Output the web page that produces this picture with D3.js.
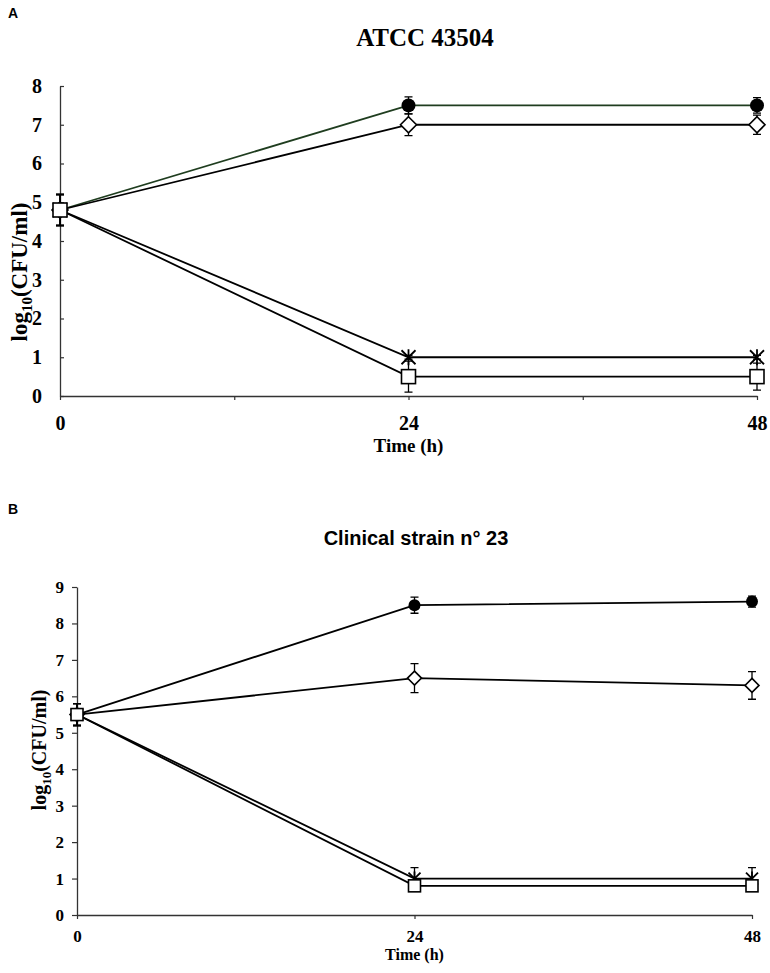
<!DOCTYPE html>
<html><head><meta charset="utf-8">
<script src="https://cdn.jsdelivr.net/npm/d3@7"></script>
<style>body{margin:0;background:#fff}svg{display:block}</style>
</head><body>
<svg id="c" width="770" height="973"></svg>
<script>
// ---- data ----
const times = [0, 24, 48];
const xTicksA = [0, 12, 24, 36, 48];
const xLabelsA = [0, 24, 48];
const yTicksA = [0, 1, 2, 3, 4, 5, 6, 7, 8];
const xTicksB = [0, 24, 48];
const yTicksB = [0, 1, 2, 3, 4, 5, 6, 7, 8, 9];

const A_circle = [4.8, 7.5, 7.5];      const A_circle_err = [0.4, 0.22, 0.2];
const A_diamond = [4.8, 7.0, 7.0];     const A_diamond_err = [0.4, 0.28, 0.25];
const A_star = [4.8, 1.0, 1.0];        const A_star_err = [0.4, 0.05, 0.05];
const A_square = [4.8, 0.5, 0.5];      const A_square_err = [0.4, 0.4, 0.35];

const B_circle = [5.5, 8.5, 8.6];      const B_circle_err = [0.3, 0.22, 0.15];
const B_diamond = [5.5, 6.5, 6.3];     const B_diamond_err = [0.3, 0.4, 0.38];
const B_star = [5.5, 1.0, 1.0];        const B_star_err = [0.3, 0.3, 0.3];
const B_square = [5.5, 0.8, 0.8];      const B_square_err = [0.3, 0.05, 0.05];

const svg = d3.select("#c");
const serif = "'Liberation Serif','Times New Roman',serif";
const sans = "'Liberation Sans',Arial,sans-serif";

function marker(g, type, x, y, s) {
  if (type === "circle") {
    g.append("circle").attr("cx", x).attr("cy", y).attr("r", s / 2).attr("fill", "#000");
  } else if (type === "diamond") {
    const h = s / 2 + 1;
    g.append("path").attr("d", `M${x},${y-h}L${x+h},${y}L${x},${y+h}L${x-h},${y}Z`)
      .attr("fill", "#fff").attr("stroke", "#000").attr("stroke-width", 1.6);
  } else if (type === "square") {
    const h = s / 2;
    g.append("rect").attr("x", x - h).attr("y", y - h).attr("width", s).attr("height", s)
      .attr("fill", "#fff").attr("stroke", "#000").attr("stroke-width", 1.6);
  } else if (type === "star") {
    const h = s / 2;
    g.append("path").attr("d", `M${x-h},${y-h}L${x+h},${y+h}M${x+h},${y-h}L${x-h},${y+h}M${x},${y-h-1}L${x},${y+h+1}`)
      .attr("fill", "none").attr("stroke", "#000").attr("stroke-width", 1.8);
  }
}

function panel(cfg) {
  const x = d3.scaleLinear().domain([0, 48]).range([cfg.x0, cfg.x1]);
  const y = d3.scaleLinear().domain([0, cfg.ymax]).range([cfg.y0, cfg.y1]);
  const g = svg.append("g");

  // axes
  const ya = d3.axisLeft(y).tickValues(cfg.yTicks).tickFormat(d3.format("d"))
    .tickSizeInner(cfg.yTickIn ? -4 : 5).tickSizeOuter(0).tickPadding(cfg.yTickIn ? 18 : 8);
  const yg = g.append("g").attr("transform", `translate(${cfg.x0},0)`).call(ya);
  const xa = d3.axisBottom(x).tickValues(cfg.xTicks)
    .tickFormat(d => cfg.xLabels.includes(d) ? d : "")
    .tickSizeInner(4).tickSizeOuter(0).tickPadding(cfg.xPad);
  const xg = g.append("g").attr("transform", `translate(0,${cfg.y0})`).call(xa);
  [yg, xg].forEach(a => {
    a.select(".domain").attr("stroke", "#333").attr("stroke-width", 1.3);
    a.selectAll(".tick line").attr("stroke", "#333").attr("stroke-width", 1.2);
    a.selectAll("text").attr("font-family", serif).attr("font-weight", "bold")
      .attr("font-size", cfg.tickFont).attr("fill", "#000");
  });

  // series
  cfg.series.forEach(s => {
    const line = d3.line().x((d, i) => x(times[i])).y(d => y(d));
    g.append("path").datum(s.v).attr("d", line).attr("fill", "none")
      .attr("stroke", s.color || "#000").attr("stroke-width", 1.8);
  });
  cfg.series.forEach(s => {
    s.v.forEach((v, i) => {
      const e = s.e[i], cx = x(times[i]), cw = 4;
      g.append("path").attr("d",
        `M${cx},${y(v - e)}L${cx},${y(v + e)}M${cx-cw},${y(v - e)}L${cx+cw},${y(v - e)}M${cx-cw},${y(v + e)}L${cx+cw},${y(v + e)}`)
        .attr("stroke", "#000").attr("stroke-width", 1.3).attr("fill", "none");
    });
  });
  cfg.series.forEach(s => {
    s.v.forEach((v, i) => marker(g, s.type, x(times[i]), y(v), cfg.ms));
  });

  // titles / labels
  svg.append("text").attr("x", cfg.titleX).attr("y", cfg.titleY).attr("text-anchor", "middle")
    .attr("font-family", cfg.titleFamily).attr("font-weight", "bold").attr("font-size", cfg.titleSize)
    .text(cfg.title);
  svg.append("text").attr("x", 8).attr("y", cfg.letterY).attr("font-family", sans)
    .attr("font-weight", "bold").attr("font-size", 14).text(cfg.letter);
  svg.append("text").attr("x", x(24)).attr("y", cfg.xLabelY).attr("text-anchor", "middle")
    .attr("font-family", serif).attr("font-weight", "bold").attr("font-size", cfg.xLabelSize).text("Time (h)");
  const yl = svg.append("text").attr("transform", `translate(${cfg.yLabelX},${cfg.yLabelY}) rotate(-90)`)
    .attr("text-anchor", "middle").attr("font-family", serif).attr("font-weight", "bold")
    .attr("font-size", cfg.yLabelSize);
  yl.append("tspan").text("log");
  yl.append("tspan").attr("dy", 5).attr("font-size", cfg.yLabelSize * 0.65).text("10");
  yl.append("tspan").attr("dy", -5).text("(CFU/ml)");
}

panel({
  x0: 60, x1: 757, y0: 396, y1: 86, ymax: 8,
  yTicks: yTicksA, xTicks: xTicksA, xLabels: xLabelsA, yTickIn: true, xPad: 16,
  tickFont: 20, ms: 14,
  title: "ATCC 43504", titleX: 425, titleY: 46, titleFamily: serif, titleSize: 25,
  letter: "A", letterY: 18, xLabelY: 452, xLabelSize: 19,
  yLabelX: 27, yLabelY: 272, yLabelSize: 23,
  series: [
    {type: "circle", v: A_circle, e: A_circle_err, color: "#1f3d1f"},
    {type: "diamond", v: A_diamond, e: A_diamond_err},
    {type: "star", v: A_star, e: A_star_err},
    {type: "square", v: A_square, e: A_square_err}
  ]
});

panel({
  x0: 77, x1: 752, y0: 915, y1: 587, ymax: 9,
  yTicks: yTicksB, xTicks: xTicksB, xLabels: xTicksB, yTickIn: false, xPad: 11,
  tickFont: 17, ms: 12,
  title: "Clinical strain n° 23", titleX: 416, titleY: 545, titleFamily: sans, titleSize: 20,
  letter: "B", letterY: 514, xLabelY: 960, xLabelSize: 16,
  yLabelX: 46, yLabelY: 750, yLabelSize: 20,
  series: [
    {type: "circle", v: B_circle, e: B_circle_err},
    {type: "diamond", v: B_diamond, e: B_diamond_err},
    {type: "star", v: B_star, e: B_star_err},
    {type: "square", v: B_square, e: B_square_err}
  ]
});
</script>
</body></html>
